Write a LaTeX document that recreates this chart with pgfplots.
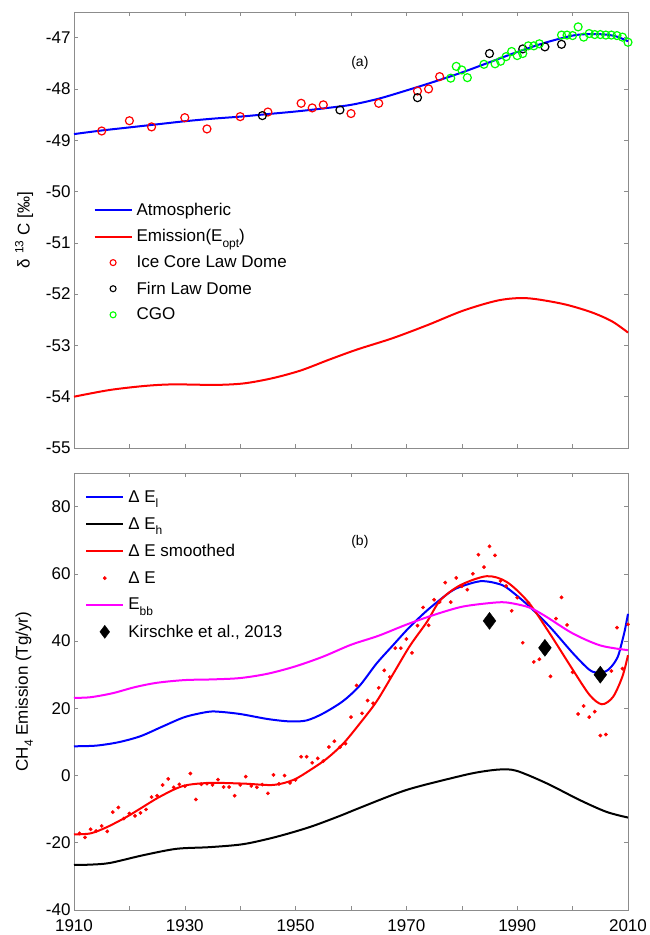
\documentclass[border=0pt]{standalone}
\usepackage{fontspec}
\setmainfont{Liberation Sans}
\usepackage{pgfplots}
\pgfplotsset{compat=1.18}
\newcommand{\fs}{\fontsize{17}{20}\selectfont}
\newcommand{\sub}[1]{\raisebox{-0.3em}{\fontsize{12}{12}\selectfont #1}}
\definecolor{mblue}{RGB}{0,0,255}
\definecolor{mred}{RGB}{255,0,0}
\definecolor{mgreen}{RGB}{0,255,0}
\definecolor{mmag}{RGB}{255,0,255}
\pgfplotsset{
  myax/.style={
    scale only axis, width=554pt,
    xmin=1910, xmax=2010,
    xtick={1910,1920,...,2010},
    tick align=inside, major tick length=4pt,
    axis line style={black!45, line width=0.8pt},
    tick style={black!45, line width=0.6pt},
    tick label style={font=\fs, black},
    x tick label style={yshift=-6pt},
    label style={font=\fs},
    /pgf/number format/assume math mode=true,
    legend style={draw=none, fill=none, font=\fs, legend cell align=left,
      inner sep=0pt, nodes={inner xsep=4pt, inner ysep=1pt}},
    legend image code/.code={\draw[mark repeat=2,mark phase=2,##1] plot coordinates {(0pt,0pt) (18.5pt,0pt) (37pt,0pt)};},
    clip=false,
  },
  ln/.style={draw=#1, line width=2pt},
}
\begin{document}
\begin{tikzpicture}[x=1pt,y=1pt]
\useasboundingbox (0,0) rectangle (649,935);
% ---------------- (a) ----------------
\begin{axis}[myax, at={(74pt,487pt)}, anchor=south west, height=436pt,
  ymin=-55, ymax=-46.5, ytick={-55,-54,...,-47}, xticklabels={},
  ylabel={δ \textsuperscript{13} C [‰]},
  ylabel style={at={(axis description cs:-0.09,0.5)}, anchor=center},
  legend style={at={(axis description cs:0.035,0.564)}, anchor=north west, row sep=10.5pt},
]
\addlegendimage{ln=mblue}
\addlegendentry{Atmospheric}
\addlegendimage{ln=mred}
\addlegendentry{Emission(E\sub{opt})}
\addlegendimage{only marks, mark=o, mark size=3pt, mark options={mred, line width=1.1pt}}
\addlegendentry{Ice Core Law Dome}
\addlegendimage{only marks, mark=o, mark size=3pt, mark options={black, line width=1.1pt}}
\addlegendentry{Firn Law Dome}
\addlegendimage{only marks, mark=o, mark size=3pt, mark options={mgreen, line width=1.1pt}}
\addlegendentry{CGO}
\addplot[ln=mblue, smooth, forget plot] coordinates {
(1910,-48.88) (1915,-48.81) (1920,-48.75) (1925,-48.69) (1930,-48.63) (1935,-48.58)
(1940,-48.54) (1945,-48.49) (1950,-48.44) (1955,-48.38) (1960,-48.31) (1965,-48.19)
(1970,-48.03) (1975,-47.86) (1980,-47.68) (1985,-47.48) (1990,-47.28) (1995,-47.10)
(2000,-46.96) (2003,-46.93) (2006,-46.94) (2008,-46.98) (2010,-47.07)};
\addplot[ln=mred, smooth, forget plot] coordinates {
(1910,-54.00) (1916.4,-53.87) (1922.8,-53.79) (1927.9,-53.76) (1935.6,-53.77)
(1940.7,-53.74) (1945.8,-53.64) (1950.9,-53.49) (1956,-53.28) (1961.1,-53.08)
(1967.5,-52.86) (1973.9,-52.60) (1980.3,-52.32) (1986.7,-52.12) (1991.8,-52.08)
(1998.2,-52.19) (2003.3,-52.35) (2007.1,-52.53) (2010,-52.75)};
\addplot[only marks, mark=o, mark size=4pt, mark options={mred, line width=1.2pt}, forget plot] coordinates {
(1915,-48.82) (1920,-48.62) (1924,-48.74) (1930,-48.56) (1934,-48.78) (1940,-48.54)
(1945,-48.45) (1951,-48.28) (1953,-48.37) (1955,-48.31) (1960,-48.48) (1965,-48.28)
(1972,-48.04) (1974,-48.00) (1976,-47.76)};
\addplot[only marks, mark=o, mark size=4pt, mark options={black, line width=1.2pt}, forget plot] coordinates {
(1944,-48.52) (1958,-48.41) (1972,-48.17) (1985,-47.31) (1991,-47.22) (1995,-47.18) (1998,-47.13)};
\addplot[only marks, mark=o, mark size=4pt, mark options={mgreen, line width=1.2pt}, forget plot] coordinates {
(1978,-47.79) (1979,-47.56) (1980,-47.63) (1981,-47.78) (1984,-47.52) (1986,-47.51)
(1987,-47.46) (1988,-47.37) (1989,-47.27) (1990,-47.35) (1991,-47.31) (1992,-47.16)
(1993,-47.16) (1994,-47.12) (1998,-46.95) (1999,-46.95) (2000,-46.96) (2001,-46.79)
(2002,-46.99) (2003,-46.92) (2004,-46.94) (2005,-46.94) (2006,-46.95) (2007,-46.95)
(2008,-46.96) (2009,-46.99) (2010,-47.09)};
\node[font=\fontsize{14}{16}\selectfont] at (axis cs:1961.6,-47.5) {(a)};
\end{axis}
% ---------------- (b) ----------------
\begin{axis}[myax, at={(74pt,25pt)}, anchor=south west, height=437pt,
  ymin=-40, ymax=90, ytick={-40,-20,...,80},
  xticklabels={1910,,1930,,1950,,1970,,1990,,2010},
  ylabel={CH\sub{4} Emission (Tg/yr)},
  ylabel style={at={(axis description cs:-0.09,0.5)}, anchor=center},
  legend style={at={(axis description cs:0.02,0.962)}, anchor=north west, row sep=11.5pt},
]
\addlegendimage{ln=mblue}
\addlegendentry{Δ E\sub{l}}
\addlegendimage{ln=black}
\addlegendentry{Δ E\sub{h}}
\addlegendimage{ln=mred}
\addlegendentry{Δ E smoothed}
\addlegendimage{only marks, mark=*, mark size=1.7pt, mark options={draw=mred, fill=mred}}
\addlegendentry{Δ E}
\addlegendimage{ln=mmag}
\addlegendentry{E\sub{bb}}
\addlegendimage{only marks, mark=diamond*, mark size=6.5pt, mark options={draw=black, fill=black}}
\addlegendentry{Kirschke et al., 2013}
\addplot[ln=mblue, smooth, forget plot] coordinates {
(1910,8.7) (1914,8.9) (1918,9.9) (1922,11.7) (1926,14.6) (1930,17.4) (1934,18.9)
(1936,19.0) (1940,18.3) (1945,16.8) (1949,16.1) (1952,16.4) (1955,18.5) (1958.6,22.2)
(1961.6,26.8) (1964.6,33.3) (1967.6,38.8) (1970.6,44.2) (1974,49.5) (1977.9,54.6)
(1980,56.3) (1983.3,57.8) (1986,57.3) (1988.1,55.9) (1992,50.6) (1995.9,44.2)
(2000.1,36.3) (2003,31.5) (2004.5,30.6) (2006.1,31.1) (2007.3,33.0) (2008.2,35.5)
(2008.8,39.0) (2009.4,43.0) (2010,48.1)};
\addplot[ln=black, smooth, forget plot] coordinates {
(1910,-26.6) (1913,-26.5) (1916.5,-26.0) (1922.5,-23.7) (1928.5,-21.8) (1934.5,-21.3)
(1940.6,-20.4) (1946.6,-18.2) (1952.6,-15.3) (1958,-12.0) (1961.6,-9.6) (1970,-4.3)
(1979.1,-0.4) (1983,1.0) (1986.9,1.8) (1989.9,1.4) (1995.3,-2.3) (2001.3,-7.3)
(2006.1,-10.8) (2010,-12.5)};
\addplot[ln=mred, smooth, forget plot] coordinates {
(1910,-17.5) (1913,-17.2) (1916,-15.3) (1919.5,-12.3) (1922,-9.8) (1925.5,-6.3)
(1929.7,-3.1) (1934.5,-2.2) (1940.6,-2.4) (1946,-2.8) (1949.6,-1.3) (1952.6,1.6)
(1955.6,5.0) (1958.6,9.5) (1961.6,15.5) (1964.6,22.0) (1967.6,30.2) (1970.6,38.5)
(1973.7,45.7) (1976.1,52.1) (1979.7,56.6) (1984.5,59.3) (1988.1,57.6) (1992,51.6)
(1995.9,42.2) (2000.1,31.3) (2003.1,23.9) (2005.3,21.2) (2007.3,23.4) (2009,29.5)
(2010,35.8)};
\addplot[only marks, mark=*, mark size=1.7pt, mark options={draw=mred, fill=mred}, forget plot] coordinates {
(1911,-17.2) (1912,-18.4) (1913,-16.0) (1914,-16.5) (1915,-15.0) (1916,-16.6)
(1917,-10.9) (1918,-9.5) (1919,-12.8) (1920,-11.3) (1921,-12.0) (1922,-11.1)
(1923,-10.1) (1924,-6.4) (1925,-6.0) (1926,-2.8) (1927,-1.0) (1928,-3.5)
(1929,-2.6) (1930,-3.2) (1931,0.6) (1932,-7.1) (1933,-2.6) (1934,-2.4)
(1935,-2.8) (1936,-1.2) (1937,-3.4) (1938,-3.4) (1939,-6.0) (1940,-2.8)
(1941,-0.3) (1942,-3.1) (1943,-3.5) (1944,-2.7) (1945,-5.3) (1946,0.2)
(1947,-2.5) (1948,0.0) (1949,-2.2) (1950,-1.3) (1951,5.6) (1952,5.6)
(1953,3.8) (1954,5.1) (1955,4.3) (1956,8.5) (1957,10.2) (1958,8.4)
(1959,9.5) (1960,17.4) (1961,26.8) (1962,18.5) (1963,22.3) (1964,21.5)
(1965,26.1) (1966,31.3) (1967,29.3) (1968,37.9) (1969,37.9) (1970,40.6)
(1971,36.5) (1972,44.6) (1973,50.0) (1974,44.7) (1975,52.3) (1976,51.6)
(1977,57.4) (1978,51.6) (1979,58.8) (1980,56.3) (1981,55.3) (1982,60.0)
(1983,65.7) (1984,62.0) (1985,68.2) (1986,65.5) (1987,57.9) (1988,56.4)
(1989,49.0) (1990,52.9) (1991,39.5) (1992,51.4) (1993,33.8) (1994,34.6)
(1995,38.0) (1996,29.5) (1997,46.7) (1998,53.0) (1999,44.8) (2000,30.7)
(2001,18.3) (2002,20.7) (2003,17.4) (2004,19.0) (2005,11.9) (2006,12.2)
(2007,31.1) (2008,44.0) (2009,31.8) (2010,45.0)};
\addplot[ln=mmag, smooth, forget plot] coordinates {
(1910,23.1) (1913,23.3) (1917,24.5) (1921,26.3) (1925,27.6) (1930,28.4) (1935,28.6)
(1940,29.0) (1945,30.3) (1950,32.5) (1955,35.4) (1960,38.9) (1965,41.6) (1970,44.9)
(1975,47.8) (1980,50.2) (1985,51.3) (1988,51.5) (1992,50.1) (1995,47.5) (2000,42.3)
(2005,38.7) (2010,37.3)};
\addplot[only marks, mark=diamond*, mark size=8.5pt, mark options={draw=black, fill=black}, forget plot] coordinates {
(1985,46) (1995,38) (2005,30)};
\node[font=\fontsize{14}{16}\selectfont] at (axis cs:1961.6,69.4) {(b)};
\end{axis}
\end{tikzpicture}
\end{document}
